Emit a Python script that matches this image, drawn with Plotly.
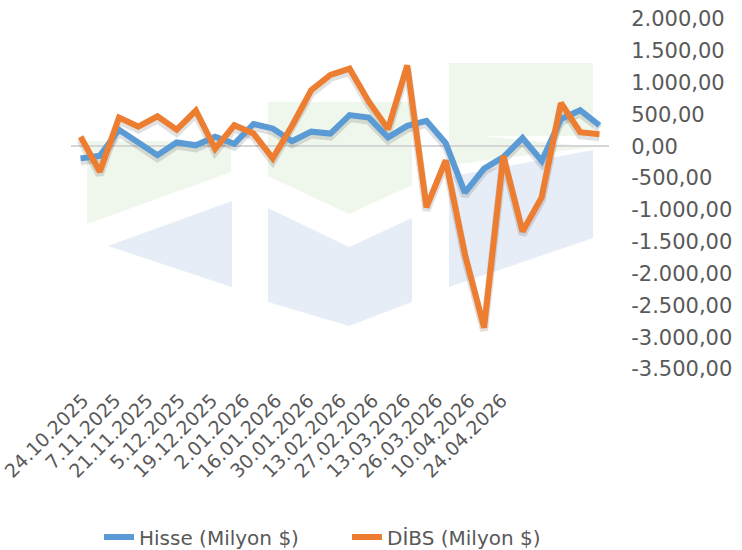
import plotly.graph_objects as go

# ---------------- data ----------------
dates = ["17.10.2025", "24.10.2025", "31.10.2025", "7.11.2025", "14.11.2025", "21.11.2025",
         "28.11.2025", "5.12.2025", "12.12.2025", "19.12.2025", "26.12.2025", "2.01.2026",
         "9.01.2026", "16.01.2026", "23.01.2026", "30.01.2026", "6.02.2026", "13.02.2026",
         "20.02.2026", "27.02.2026", "6.03.2026", "13.03.2026", "19.03.2026", "26.03.2026",
         "3.04.2026", "10.04.2026", "17.04.2026", "24.04.2026"]

hisse = [-190, -150, 260, 60, -140, 60, 15, 150, 40, 350, 280, 80, 230, 200,
         490, 450, 140, 320, 400, 50, -730, -350, -170, 130, -230, 430, 566, 330]

dibs = [150, -400, 450, 310, 470, 260, 560, -40, 330, 200, -190, 320, 880, 1120,
        1220, 700, 270, 1270, -960, -220, -1700, -2850, -150, -1340, -800, 680, 220, 190]

x_tick_labels = ["24.10.2025", "7.11.2025", "21.11.2025", "5.12.2025", "19.12.2025",
                 "2.01.2026", "16.01.2026", "30.01.2026", "13.02.2026", "27.02.2026",
                 "13.03.2026", "26.03.2026", "10.04.2026", "24.04.2026"]

y_tick_vals = [2000, 1500, 1000, 500, 0, -500, -1000, -1500, -2000, -2500, -3000, -3500]
y_tick_labels = ["2.000,00", "1.500,00", "1.000,00", "500,00", "0,00", "-500,00",
                 "-1.000,00", "-1.500,00", "-2.000,00", "-2.500,00", "-3.000,00", "-3.500,00"]

series_names = ["Hisse (Milyon $)", "DİBS (Milyon $)"]

# ---------------- styling ----------------
W, H = 742, 550
ML, MR, MT, MB = 71, 133, 19, 181
PW, PH = W - ML - MR, H - MT - MB
FONT = "DejaVu Sans"
TXT = "#595959"
BLUE = "#5B9BD5"
ORANGE = "#ED7D31"
YMIN, YMAX = -3500, 2000
shadow_px = 3
shadow_shift = shadow_px * (YMAX - YMIN) / PH


def px(x, y):
    return (x - ML) / PW, (H - MB - y) / PH


def path(pts):
    p = [px(x, y) for x, y in pts]
    return "M " + " L ".join(f"{a:.4f},{b:.4f}" for a, b in p) + " Z"


GREEN_FILL = "rgba(226,239,218,0.55)"
BLUE_FILL = "rgba(207,219,239,0.5)"
logo = [
    ([(87, 141), (231, 141), (231, 172), (87, 224)], GREEN_FILL),
    ([(108, 246), (232, 201), (232, 287)], BLUE_FILL),
    ([(268, 102), (412, 102), (412, 185), (349, 214), (268, 176)], GREEN_FILL),
    ([(268, 208), (349, 247), (412, 218), (412, 302), (349, 326), (268, 302)], BLUE_FILL),
    ([(449, 63), (593, 63), (593, 136), (482, 136), (593, 147), (449, 165)], GREEN_FILL),
    ([(449, 177), (593, 150), (593, 238), (449, 287)], BLUE_FILL),
]

fig = go.Figure()

# soft drop shadows (base axes, shifted range so they sit a few px lower)
for vals in (hisse, dibs):
    fig.add_trace(go.Scatter(x=dates, y=vals, mode="lines", xaxis="x", yaxis="y",
                             line=dict(color="rgba(0,0,0,0.12)", width=8),
                             showlegend=False, hoverinfo="skip"))

# main lines, each with its own legend box
for name, vals, col, lg in zip(series_names, (hisse, dibs), (BLUE, ORANGE),
                               ("legend", "legend2")):
    fig.add_trace(go.Scatter(x=dates, y=vals, mode="lines", name=name,
                             xaxis="x", yaxis="y2", legend=lg,
                             line=dict(color=col, width=6)))

# carrier for the date label axis
fig.add_trace(go.Scatter(x=list(range(len(x_tick_labels))), y=[None] * len(x_tick_labels),
                         xaxis="x2", yaxis="y2", mode="lines",
                         showlegend=False, hoverinfo="skip"))

legend_common = dict(orientation="h", xref="container", yref="container",
                     xanchor="left", y=(H - 537) / H, yanchor="middle",
                     font=dict(family=FONT, size=20, color=TXT),
                     bgcolor="rgba(0,0,0,0)")

fig.update_layout(
    width=W, height=H,
    margin=dict(l=ML, r=MR, t=MT, b=MB, pad=0, autoexpand=False),
    paper_bgcolor="white", plot_bgcolor="white",
    font=dict(family=FONT, size=20, color=TXT),
    showlegend=True,
    legend=dict(x=99 / W, **legend_common),
    legend2=dict(x=347 / W, **legend_common),
    xaxis=dict(type="category", range=[-0.5, len(dates) - 0.5], automargin=False,
               showticklabels=False, showgrid=False, zeroline=False,
               showline=False, ticks=""),
    xaxis2=dict(overlaying="x", anchor="y", side="bottom", type="linear",
                range=[-0.373, 16.335], tickmode="array", automargin=False,
                tickvals=list(range(len(x_tick_labels))), ticktext=x_tick_labels,
                tickangle=-45, tickfont=dict(family=FONT, size=19, color=TXT),
                ticks="outside", ticklen=12, tickcolor="rgba(0,0,0,0)",
                showgrid=False, zeroline=False, showline=False),
    yaxis=dict(range=[YMIN + shadow_shift, YMAX + shadow_shift], visible=False,
               showgrid=False, zeroline=False, automargin=False),
    yaxis2=dict(overlaying="y", side="right", anchor="x", range=[YMIN, YMAX],
                tickmode="array", tickvals=y_tick_vals, ticktext=y_tick_labels,
                tickfont=dict(family=FONT, size=21, color=TXT), automargin=False,
                ticks="outside", ticklen=17, tickcolor="rgba(0,0,0,0)",
                showgrid=False, showline=False,
                zeroline=True, zerolinecolor="#D6D6D6", zerolinewidth=2),
    shapes=[dict(type="path", path=path(p), xref="paper", yref="paper",
                 fillcolor=c, line=dict(width=0), layer="below") for p, c in logo],
)

fig.write_html("out.html", config={"displayModeBar": False},
               post_script="document.body.style.margin='0';")
